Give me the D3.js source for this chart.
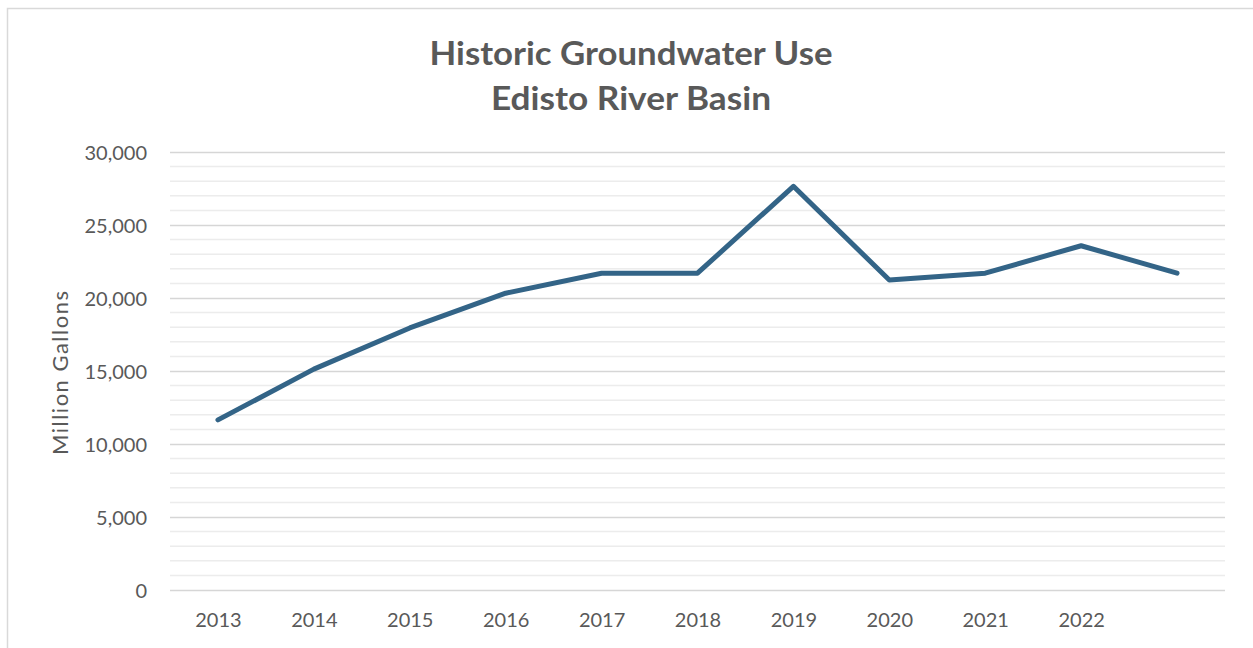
<!DOCTYPE html>
<html>
<head>
<meta charset="utf-8">
<script src="https://cdn.jsdelivr.net/npm/d3@7"></script>
<style>
  html, body { margin: 0; padding: 0; background: #fff; }
  svg { display: block; }
  text { font-family: Lato, "Open Sans", sans-serif; fill: #595959; }
</style>
</head>
<body>
<svg id="chart"></svg>
<script>
// Chart data
const years = ["2013", "2014", "2015", "2016", "2017", "2018", "2019", "2020", "2021", "2022", "2023"]
const xTickLabels = ["2013", "2014", "2015", "2016", "2017", "2018", "2019", "2020", "2021", "2022", ""]
const groundwaterUse = [11650, 15130, 17950, 20330, 21700, 21700, 27650, 21230, 21700, 23580, 21700]
const yTicks = [0, 5000, 10000, 15000, 20000, 25000, 30000]
const titleLines = ["Historic Groundwater Use", "Edisto River Basin"]
const yAxisTitle = "Million Gallons"

const WIDTH = 1253
const HEIGHT = 648
const PLOT = { left: 170, right: 1225, top: 152, bottom: 590 }

const svg = d3.select("#chart").attr("width", WIDTH).attr("height", HEIGHT)

// outer chart border (only top and left visible in the crop)
svg.append("rect")
  .attr("x", 7.5).attr("y", 8.5)
  .attr("width", WIDTH + 10).attr("height", HEIGHT + 10)
  .attr("fill", "none").attr("stroke", "#d9d9d9").attr("stroke-width", 1.5)

const x = d3.scalePoint()
  .domain(years)
  .range([PLOT.left, PLOT.right])
  .padding(0.5)

const y = d3.scaleLinear().domain([0, 30000]).range([PLOT.bottom, PLOT.top])

// minor gridlines every 1,000
const minor = d3.range(1000, 30000, 1000).filter((v) => v % 5000 !== 0)
svg.append("g").selectAll("line").data(minor).join("line")
  .attr("x1", PLOT.left).attr("x2", PLOT.right)
  .attr("y1", (d) => y(d)).attr("y2", (d) => y(d))
  .attr("stroke", "#ececec").attr("stroke-width", 1.5)

// major gridlines + tick labels
const yAxis = svg.append("g")
  .attr("transform", `translate(${PLOT.left},0)`)
  .call(d3.axisLeft(y).tickValues(yTicks).tickFormat(d3.format(",")).tickSize(-(PLOT.right - PLOT.left)).tickPadding(23))
yAxis.select(".domain").remove()
yAxis.selectAll(".tick line").attr("stroke", "#d6d6d6").attr("stroke-width", 1.5)
yAxis.selectAll(".tick text")
  .attr("font-size", 20)
  .attr("font-family", "Lato, sans-serif")
  .attr("fill", "#595959")
  .attr("dy", "0.36em")

// x axis labels
const xAxis = svg.append("g")
  .attr("transform", `translate(0,${PLOT.bottom})`)
  .call(d3.axisBottom(x).tickSize(0).tickPadding(23).tickFormat((d, i) => xTickLabels[i]))
xAxis.select(".domain").remove()
xAxis.selectAll(".tick text")
  .attr("font-size", 20)
  .attr("font-family", "Lato, sans-serif")
  .attr("fill", "#595959")

// the series line
const line = d3.line()
  .x((d, i) => x(years[i]))
  .y((d) => y(d))

svg.append("path")
  .datum(groundwaterUse)
  .attr("d", line)
  .attr("fill", "none")
  .attr("stroke", "#336487")
  .attr("stroke-width", 5)
  .attr("stroke-linejoin", "round")
  .attr("stroke-linecap", "round")

// y axis title
svg.append("text")
  .attr("transform", `translate(68,${(PLOT.top + PLOT.bottom) / 2 + 2}) rotate(-90)`)
  .attr("text-anchor", "middle")
  .attr("font-size", 22)
  .attr("textLength", 164)
  .attr("lengthAdjust", "spacing")
  .text(yAxisTitle)

// title, two lines
const titleWidths = [403, 280]
svg.append("g").selectAll("text").data(titleLines).join("text")
  .attr("x", 631)
  .attr("y", (d, i) => 65 + i * 45)
  .attr("text-anchor", "middle")
  .attr("font-size", 33)
  .attr("font-weight", "bold")
  .attr("textLength", (d, i) => titleWidths[i])
  .attr("lengthAdjust", "spacingAndGlyphs")
  .text((d) => d)
</script>
</body>
</html>
